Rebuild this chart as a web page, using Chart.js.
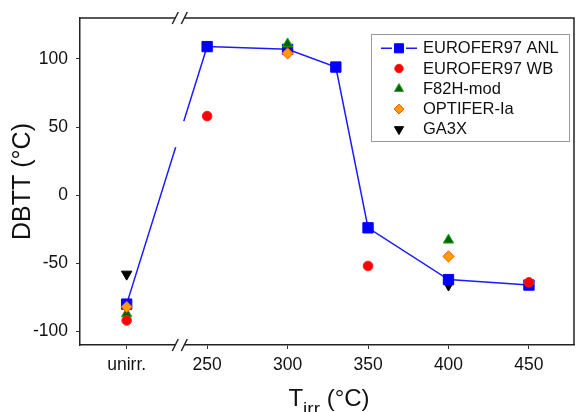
<!DOCTYPE html>
<html><head><meta charset="utf-8">
<script src="https://cdn.jsdelivr.net/npm/chart.js@4/dist/chart.umd.min.js"></script>
<style>html,body{margin:0;padding:0;background:#fff;overflow:hidden;}#wrap{width:576px;height:412px;}canvas{display:block;}</style>
</head><body><div id="wrap"><canvas id="c" width="576" height="412"></canvas></div>
<script>
const FONT = '"Liberation Sans", Arial, Helvetica, sans-serif';

// Axis: the unirradiated condition is placed at position 200 (before the axis break)
const UNIRR_POS = 200;
const BREAK_AT = 233;
const xTickValues = [200, 250, 300, 350, 400, 450];
const xTickLabels = ['unirr.', '250', '300', '350', '400', '450'];
const yTickValues = [-100, -50, 0, 50, 100];

// Series (T_irr, DBTT in °C)
const anlTemps = ['unirr.', 250, 300, 330, 350, 400, 450];
const anlDBTT  = [-80, 109, 107, 94, -24, -62, -66];
const wbTemps  = ['unirr.', 250, 350, 450];
const wbDBTT   = [-92, 58, -52, -64];
const f82Temps = ['unirr.', 300, 400];
const f82DBTT  = [-87, 111, -33];
const optTemps = ['unirr.', 300, 400];
const optDBTT  = [-82, 104, -45];
const ga3Temps = ['unirr.', 400];
const ga3DBTT  = [-58, -66];

const pos = t => (t === 'unirr.' ? UNIRR_POS : t);
const pts = (ts, vs) => ts.map((t, i) => ({x: pos(t), y: vs[i]}));

const datasets = [
  {label: 'EUROFER97 ANL', data: pts(anlTemps, anlDBTT), showLine: true,
   borderColor: '#1a1aff', borderWidth: 1.5, pointStyle: 'rect', pointRadius: 7.3,
   pointBackgroundColor: '#0000ff', pointBorderColor: '#0000ff', pointBorderWidth: 1, order: 4},
  {label: 'EUROFER97 WB', data: pts(wbTemps, wbDBTT), showLine: false,
   pointStyle: 'circle', pointRadius: 4.8, pointBackgroundColor: '#ff0000',
   pointBorderColor: '#ff1a1a', pointBorderWidth: 1, order: 1},
  {label: 'F82H-mod', data: pts(f82Temps, f82DBTT), showLine: false,
   pointStyle: 'triangle', pointRadius: 6, pointBackgroundColor: '#006400',
   pointBorderColor: '#1faa1f', pointBorderWidth: 1, order: 3},
  {label: 'OPTIFER-Ia', data: pts(optTemps, optDBTT), showLine: false,
   pointStyle: 'rectRot', pointRadius: 5.6, pointBackgroundColor: '#ff9c00',
   pointBorderColor: '#ff5500', pointBorderWidth: 1, order: 2},
  {label: 'GA3X', data: pts(ga3Temps, ga3DBTT), showLine: false,
   pointStyle: 'triangle', pointRotation: 180, pointRadius: 6, pointBackgroundColor: '#000',
   pointBorderColor: '#000', pointBorderWidth: 1, order: 5}
];

const decor = {
  id: 'decor',
  beforeDatasetsDraw(chart) {
    const {ctx, chartArea: a} = chart;
    ctx.save();
    ctx.strokeStyle = '#222'; ctx.lineWidth = 1.5;
    ctx.beginPath();
    ctx.moveTo(a.left, a.top); ctx.lineTo(a.right, a.top); ctx.lineTo(a.right, a.bottom);
    ctx.stroke();
    ctx.restore();
  },
  afterDatasetsDraw(chart) {
    const {ctx, chartArea: a} = chart;
    const sx = chart.scales.x;
    const bx = sx.getPixelForValue(BREAK_AT);
    ctx.save();
    // gap in the ANL line at the axis break
    const meta = chart.getDatasetMeta(0);
    const p0 = meta.data[0], p1 = meta.data[1];
    const ly = p0.y + (p1.y - p0.y) * (bx - p0.x) / (p1.x - p0.x);
    ctx.fillStyle = '#fff';
    ctx.fillRect(bx - 6, ly - 13, 12, 26);
    // break marks on top and bottom frame
    [a.top, a.bottom].forEach(yy => {
      ctx.fillStyle = '#fff';
      ctx.fillRect(bx - 4.5, yy - 3, 9, 6);
      ctx.strokeStyle = '#222'; ctx.lineWidth = 1.5;
      [bx - 4.5, bx + 4.5].forEach(cx => {
        ctx.beginPath(); ctx.moveTo(cx - 3, yy + 6); ctx.lineTo(cx + 3, yy - 6); ctx.stroke();
      });
    });
    ctx.restore();
  },
  afterDraw(chart) {
    const {ctx, chartArea: a} = chart;
    ctx.save();
    // x axis title with subscript
    const big = '24px ' + FONT, small = '19px ' + FONT;
    ctx.fillStyle = '#111'; ctx.textBaseline = 'alphabetic'; ctx.textAlign = 'left';
    ctx.font = big; const wT = ctx.measureText('T').width; const wR = ctx.measureText(' (°C)').width;
    ctx.font = small; const wS = ctx.measureText('irr').width;
    let x0 = 329 - (wT + wS + wR) / 2;
    const base = 406;
    ctx.font = big; ctx.fillText('T', x0, base); x0 += wT;
    ctx.font = small; ctx.fillText('irr', x0, base + 9); x0 += wS;
    ctx.font = big; ctx.fillText(' (°C)', x0, base);

    // legend box
    const lx = 371, ly = 34, lw = 198, lh = 107;
    ctx.fillStyle = '#fff'; ctx.fillRect(lx, ly, lw, lh);
    ctx.strokeStyle = '#9a9a9a'; ctx.lineWidth = 1; ctx.strokeRect(lx + 0.5, ly + 0.5, lw, lh);
    const symX = 399, textX = 423, row0 = 48.3, step = 20.25;
    ctx.font = '16.5px ' + FONT; ctx.textBaseline = 'middle'; ctx.fillStyle = '#111';
    chart.data.datasets.forEach((ds, i) => {
      const yy = row0 + i * step;
      if (ds.showLine) {
        ctx.strokeStyle = ds.borderColor; ctx.lineWidth = 1.5;
        ctx.beginPath(); ctx.moveTo(381, yy); ctx.lineTo(392, yy); ctx.moveTo(406, yy); ctx.lineTo(417, yy); ctx.stroke();
      }
      ctx.fillStyle = ds.pointBackgroundColor; ctx.strokeStyle = ds.pointBorderColor; ctx.lineWidth = ds.pointBorderWidth;
      Chart.helpers.drawPoint(ctx, {pointStyle: ds.pointStyle, rotation: ds.pointRotation || 0,
        radius: ds.pointRadius * 0.88, borderWidth: ds.pointBorderWidth}, symX, yy);
      ctx.fillStyle = '#111';
      ctx.fillText(ds.label, textX, yy + 0.5);
    });
    ctx.restore();
  }
};

new Chart(document.getElementById('c'), {
  type: 'scatter',
  data: {datasets},
  options: {
    responsive: false, animation: false, devicePixelRatio: 1,
    layout: {autoPadding: false, padding: {left: 0, top: 18, right: 2, bottom: 0}},
    plugins: {legend: {display: false}, tooltip: {enabled: false}},
    scales: {
      x: {
        type: 'linear', position: 'bottom', min: 171, max: 478,
        afterBuildTicks: s => { s.ticks = xTickValues.map(v => ({value: v})); },
        ticks: {callback: (v, i) => xTickLabels[i], font: {family: FONT, size: 17.5},
                color: '#111', padding: 6, maxRotation: 0, autoSkip: false},
        grid: {display: true, drawOnChartArea: false, drawTicks: true, tickLength: 4, color: '#333', lineWidth: 1},
        border: {display: true, color: '#222', width: 1.5},
        afterFit: s => { s.height = 67; s.paddingLeft = 0; s.paddingRight = 0; }
      },
      y: {
        type: 'linear', position: 'left', min: -110, max: 130,
        afterBuildTicks: s => { s.ticks = yTickValues.map(v => ({value: v})); },
        ticks: {font: {family: FONT, size: 17.5}, color: '#111', padding: 8},
        grid: {display: true, drawOnChartArea: false, drawTicks: true, tickLength: 4, color: '#333', lineWidth: 1},
        border: {display: true, color: '#222', width: 1.5},
        title: {display: true, text: 'DBTT (°C)', font: {family: FONT, size: 25}, color: '#111', padding: {top: 8, bottom: 0}},
        afterFit: s => { s.width = 80; s.paddingTop = 0; s.paddingBottom = 0; }
      }
    }
  },
  plugins: [decor]
});
</script>
</body></html>
